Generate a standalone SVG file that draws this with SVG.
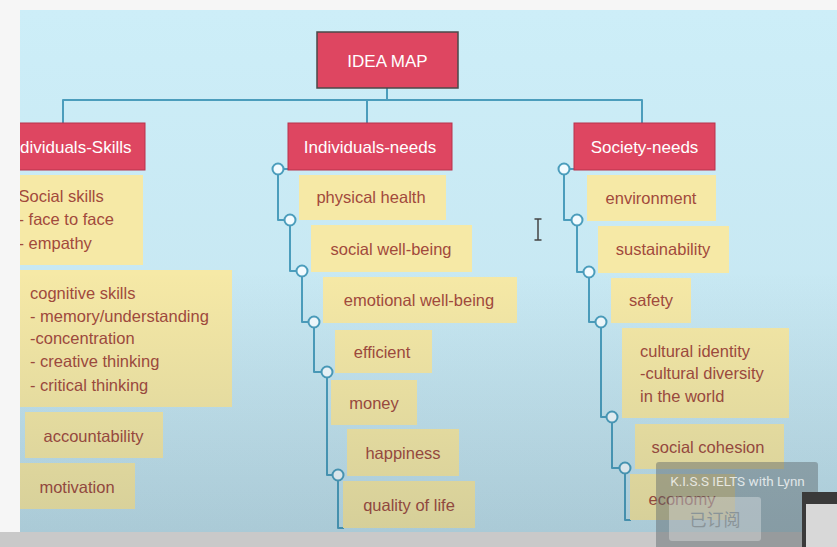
<svg xmlns="http://www.w3.org/2000/svg" width="837" height="547" viewBox="0 0 837 547">
<style>
.red{fill:#de4661;}
.redb{fill:#de4661;stroke:#b8334c;stroke-width:1;}
.yel{fill:#f6e9a6;}
.ht{font-family:"Liberation Sans",Arial,sans-serif;font-size:17px;fill:#ffffff;text-anchor:middle;}
.yt{font-family:"Liberation Sans",Arial,sans-serif;font-size:16.5px;fill:#a24a3c;}
.c{text-anchor:middle;}
.ln{fill:none;stroke:#4b9dbc;stroke-width:2;stroke-linejoin:round;}
.dot{fill:#f2fbff;stroke:#4b9dbc;stroke-width:2;}
</style>
<defs>
<linearGradient id="bg" x1="0" y1="10" x2="0" y2="532" gradientUnits="userSpaceOnUse">
<stop offset="0" stop-color="#cdeef8"/>
<stop offset="1" stop-color="#c3e3ee"/>
</linearGradient>
<linearGradient id="shade" x1="0" y1="10" x2="0" y2="532" gradientUnits="userSpaceOnUse">
<stop offset="0.5" stop-color="#1e3c50" stop-opacity="0"/>
<stop offset="1" stop-color="#1e3c50" stop-opacity="0.15"/>
</linearGradient>
<clipPath id="slide"><rect x="20" y="10" width="817" height="522"/></clipPath>
</defs>
<rect x="0" y="0" width="837" height="547" fill="#f6f6f6"/>
<rect x="20" y="10" width="817" height="522" fill="url(#bg)"/>
<g clip-path="url(#slide)">
<g id="connectors">
<path class="ln" d="M387,88 V100 M63,123 V100 H642 V123 M367,100 V123"/>
<path class="ln" d="M288,169 H278 V220 H290 V271 H302 V322 H314 V372 H327 V475 H338 V528 H344"/>
<path class="ln" d="M574,169 H564 V220 H577 V272 H589 V322 H601 V417 H612 V468 H625 V520 H631"/>
<circle class="dot" cx="278" cy="169" r="5.5"/>
<circle class="dot" cx="290" cy="220" r="5.5"/>
<circle class="dot" cx="302" cy="271" r="5.5"/>
<circle class="dot" cx="314" cy="322" r="5.5"/>
<circle class="dot" cx="327" cy="372" r="5.5"/>
<circle class="dot" cx="338" cy="475" r="5.5"/>
<circle class="dot" cx="564" cy="169" r="5.5"/>
<circle class="dot" cx="577" cy="220" r="5.5"/>
<circle class="dot" cx="589" cy="272" r="5.5"/>
<circle class="dot" cx="601" cy="322" r="5.5"/>
<circle class="dot" cx="612" cy="417" r="5.5"/>
<circle class="dot" cx="625" cy="468" r="5.5"/>
</g>
<g id="idea-map"><rect x="317" y="32" width="141" height="56" fill="#de4661" stroke="#4a4a4a" stroke-width="1.5"/><text class="ht" x="387.5" y="66.5">IDEA MAP</text></g>
<g id="individuals-skills"><rect class="redb" x="10" y="123" width="135" height="47"/><text class="ht" x="20" y="153" text-anchor="start" style="text-anchor:start">dividuals-Skills</text></g>
<g id="individuals-needs"><rect class="redb" x="288" y="123" width="164" height="47"/><text class="ht" x="370" y="153">Individuals-needs</text></g>
<g id="society-needs"><rect class="redb" x="574" y="123" width="141" height="47"/><text class="ht" x="644.5" y="153">Society-needs</text></g>
<g id="social-skills"><rect class="yel" x="10" y="175" width="133" height="90"/><text class="yt" x="18.5" y="202">Social skills</text><text class="yt" x="18.5" y="225">- face to face</text><text class="yt" x="18.5" y="249">- empathy</text></g>
<g id="cognitive-skills"><rect class="yel" x="10" y="270" width="222" height="137"/><text class="yt" x="30" y="299">cognitive skills</text><text class="yt" x="30" y="322">- memory/understanding</text><text class="yt" x="30" y="344">-concentration</text><text class="yt" x="30" y="367">- creative thinking</text><text class="yt" x="30" y="391">- critical thinking</text></g>
<g id="accountability"><rect class="yel" x="25" y="412" width="138" height="46"/><text class="yt c" x="93.5" y="442">accountability</text></g>
<g id="motivation"><rect class="yel" x="10" y="463" width="125" height="46"/><text class="yt c" x="77" y="493">motivation</text></g>
<g id="physical-health"><rect class="yel" x="299" y="175" width="147" height="45"/><text class="yt c" x="371" y="203">physical health</text></g>
<g id="social-well-being"><rect class="yel" x="311" y="225" width="161" height="47"/><text class="yt c" x="391" y="255">social well-being</text></g>
<g id="emotional-well-being"><rect class="yel" x="323" y="277" width="194" height="46"/><text class="yt c" x="419" y="306">emotional well-being</text></g>
<g id="efficient"><rect class="yel" x="335" y="330" width="97" height="43"/><text class="yt c" x="382" y="358">efficient</text></g>
<g id="money"><rect class="yel" x="331" y="380" width="86" height="45"/><text class="yt c" x="374" y="409">money</text></g>
<g id="happiness"><rect class="yel" x="347" y="429" width="112" height="47"/><text class="yt c" x="403" y="459">happiness</text></g>
<g id="quality-of-life"><rect class="yel" x="343" y="481" width="132" height="47"/><text class="yt c" x="409" y="511">quality of life</text></g>
<g id="environment"><rect class="yel" x="587" y="175" width="129" height="46"/><text class="yt c" x="651" y="204">environment</text></g>
<g id="sustainability"><rect class="yel" x="598" y="226" width="131" height="47"/><text class="yt c" x="663" y="255">sustainability</text></g>
<g id="safety"><rect class="yel" x="611" y="278" width="80" height="45"/><text class="yt c" x="651" y="306">safety</text></g>
<g id="cultural-identity"><rect class="yel" x="622" y="328" width="167" height="90"/><text class="yt" x="640" y="357">cultural identity</text><text class="yt" x="640" y="379">-cultural diversity</text><text class="yt" x="640" y="402">in the world</text></g>
<g id="social-cohesion"><rect class="yel" x="635" y="424" width="149" height="45"/><text class="yt c" x="708" y="453">social cohesion</text></g>
<g id="economy"><rect class="yel" x="630" y="474" width="105" height="46"/><text class="yt c" x="682" y="505">economy</text></g>
<path d="M534.5,219 H541.5 M538,219 V240 M534.5,240 H541.5" fill="none" stroke="#444" stroke-width="1.5"/>
<rect x="20" y="10" width="817" height="522" fill="url(#shade)"/>
</g>
<rect x="0" y="532" width="837" height="15" fill="#c9c9c9"/>
<g id="overlay">
<rect x="656" y="462" width="162" height="90" rx="3" fill="#5a6468" fill-opacity="0.45"/>
<text x="737.5" y="486" font-family="Roboto,'Liberation Sans',sans-serif" font-size="13.5" fill="#ffffff" fill-opacity="0.75" text-anchor="middle">K.I.S.S IELTS with Lynn</text>
<rect x="669" y="497" width="92" height="44" rx="3" fill="#ffffff" fill-opacity="0.3"/>
<text x="715" y="526" font-family="'Noto Sans CJK SC',sans-serif" font-size="17" fill="#8a9498" text-anchor="middle">已订阅</text>
<rect x="802" y="492" width="35" height="55" fill="#d8d8d8"/>
<rect x="802" y="492" width="35" height="12" fill="#3a3a3a"/>
<rect x="802" y="492" width="4" height="55" fill="#3a3a3a"/>
</g>
</svg>
